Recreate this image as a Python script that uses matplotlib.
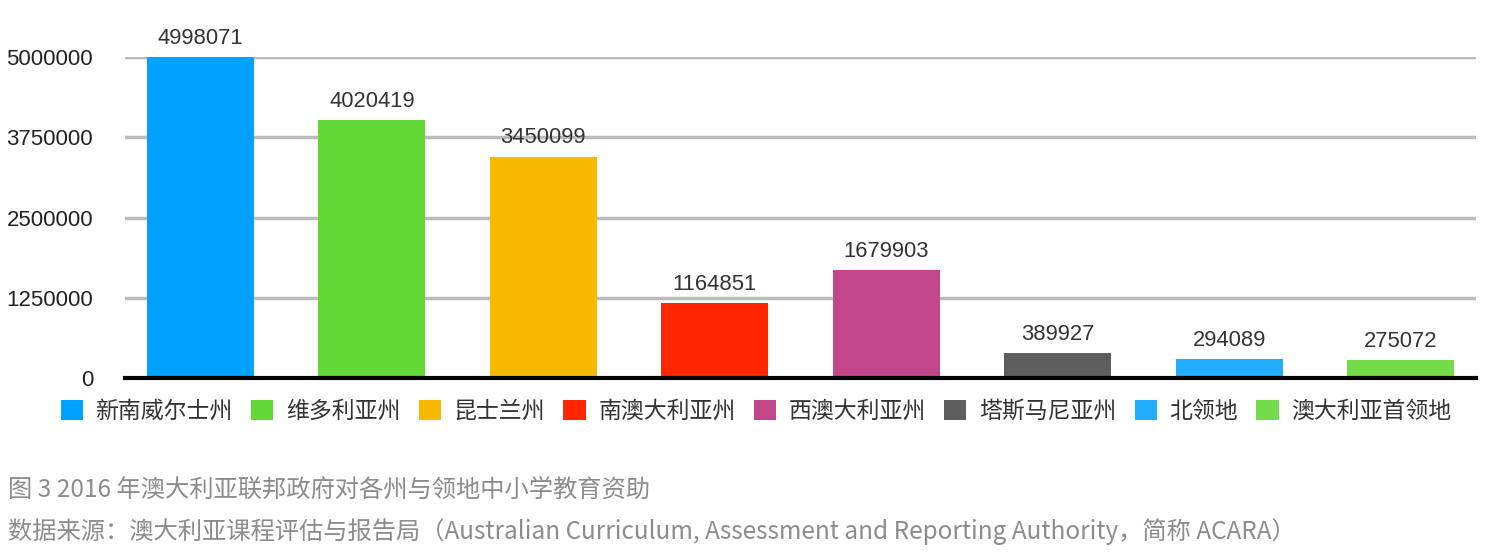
"""Bar chart: 2016 federal school funding by Australian state and territory."""

import matplotlib
matplotlib.use("Agg")
import matplotlib.pyplot as plt
from matplotlib.patches import Patch


states = ["新南威尔士州", "维多利亚州", "昆士兰州", "南澳大利亚州",
          "西澳大利亚州", "塔斯马尼亚州", "北领地", "澳大利亚首领地"]
funding = [4998071, 4020419, 3450099, 1164851, 1679903, 389927, 294089, 275072]
colors = ["#00A2FF", "#61D836", "#F8BA00", "#FF2600",
          "#C2478A", "#5E5E5E", "#22ADFF", "#74DB4A"]
yticks = [0, 1250000, 2500000, 3750000, 5000000]

caption_1 = "图 3 2016 年澳大利亚联邦政府对各州与领地中小学教育资助"
caption_2 = ("数据来源：澳大利亚课程评估与报告局（Australian Curriculum, "
             "Assessment and Reporting Authority，简称 ACARA）")

cjk = ["Noto Sans CJK SC", "DejaVu Sans"]
latin = ["Liberation Sans", "DejaVu Sans"]

fig = plt.figure(figsize=(14.86, 5.54), dpi=100)
ax = fig.add_axes([125 / 1486, 1 - 378 / 554, 1351 / 1486, 321 / 554])

x = list(range(len(states)))
bars = ax.bar(x, funding, width=0.625, color=colors, zorder=3)
ax.set_xlim(-0.44, 7.44)
ax.set_ylim(0, 5000000)

# value labels above bars
for rect, val in zip(bars, funding):
    ax.annotate(str(val), (rect.get_x() + rect.get_width() / 2, rect.get_height()),
                xytext=(0, 6), textcoords="offset points", ha="center", va="bottom",
                fontsize=15.8, color="#333333", family=latin)

ax.set_yticks(yticks)
ax.set_yticklabels([str(t) for t in yticks], family=latin, fontsize=16, color="#222222")
ax.tick_params(axis="y", length=0, pad=23)
ax.set_xticks([])
ax.yaxis.grid(True, color="#BBBBBB", linewidth=2.5, zorder=0)
ax.set_axisbelow(True)
for side in ["top", "right", "left"]:
    ax.spines[side].set_visible(False)
ax.spines["bottom"].set_linewidth(3)
ax.spines["bottom"].set_color("#000000")
ax.spines["bottom"].set_zorder(4)
ax.margins(y=0)

handles = [Patch(facecolor=c, edgecolor="none") for c in colors]
fig.legend(handles, states, loc="center", bbox_to_anchor=(756 / 1486, 1 - 411 / 554),
           ncol=len(states), frameon=False, handlelength=0.97, handleheight=0.97,
           handletextpad=0.55, columnspacing=0.8, borderpad=0, borderaxespad=0,
           prop={"family": cjk, "size": 16.5}, labelcolor="#333333")

fig.text(8 / 1486, 1 - 490 / 554, caption_1, family=cjk, fontsize=17.5,
         color="#8C8C8C", va="center", ha="left")
fig.text(8 / 1486, 1 - 532 / 554, caption_2, family=cjk, fontsize=17.5,
         color="#8C8C8C", va="center", ha="left")

fig.savefig("out.png", dpi=100)
